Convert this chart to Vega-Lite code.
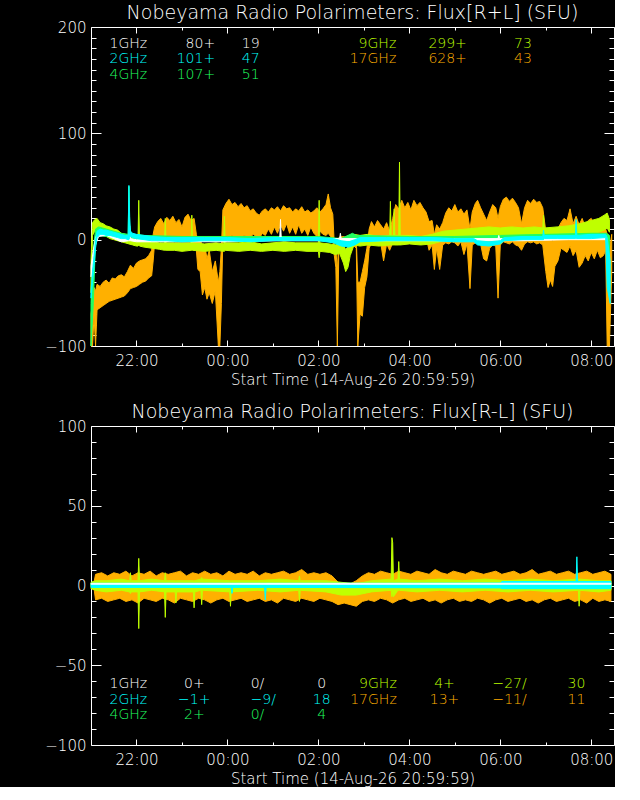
{
  "$schema": "https://vega.github.io/schema/vega-lite/v6.json",
  "background": "black",
  "padding": {"left": 44, "top": 3, "right": 0, "bottom": 0},
  "spacing": 80,
  "bounds": "flush",
  "config": {
    "font": "DejaVu Sans",
    "view": {"stroke": "white", "strokeWidth": 1},
    "axis": {
      "grid": false, "domain": false, "tickColor": "white", "tickWidth": 1,
      "labelColor": "white", "labelFont": "DejaVu Sans", "labelFontSize": 15, "labelFontWeight": 200,
      "labelOverlap": false, "labelFlush": false,
      "titleColor": "white", "titleFont": "DejaVu Sans", "titleFontSize": 15, "titleFontWeight": 200
    },
    "title": {"color": "white", "font": "DejaVu Sans", "fontSize": 19, "fontWeight": 200, "offset": -3},
    "text": {"font": "DejaVu Sans", "fontSize": 14, "fontWeight": 200}
  },
  "vconcat": [
    {
      "width": 523,
      "height": 319,
      "title": "Nobeyama Radio Polarimeters: Flux[R+L] (SFU)",
      "layer": [
        {
          "data": {
            "format": {"parse": {"t": "utc:'%d %H:%M'"}},
            "values": [
              {"t":"14 21:00","f":"17GHz","lo":-100,"hi":-70},{"t":"14 21:02","f":"17GHz","lo":-100,"hi":-60},{"t":"14 21:04","f":"17GHz","lo":-72,"hi":-45},{"t":"14 21:06","f":"17GHz","lo":-100,"hi":-48},
              {"t":"14 21:08","f":"17GHz","lo":-66,"hi":-42},{"t":"14 21:12","f":"17GHz","lo":-64,"hi":-44},{"t":"14 21:16","f":"17GHz","lo":-62,"hi":-40},{"t":"14 21:20","f":"17GHz","lo":-60,"hi":-38},
              {"t":"14 21:24","f":"17GHz","lo":-58,"hi":-41},{"t":"14 21:28","f":"17GHz","lo":-57,"hi":-36},{"t":"14 21:32","f":"17GHz","lo":-56,"hi":-37},{"t":"14 21:36","f":"17GHz","lo":-55,"hi":-34},
              {"t":"14 21:40","f":"17GHz","lo":-54,"hi":-33},{"t":"14 21:44","f":"17GHz","lo":-53,"hi":-35},{"t":"14 21:48","f":"17GHz","lo":-50,"hi":-30},{"t":"14 21:52","f":"17GHz","lo":-46,"hi":-24},
              {"t":"14 21:56","f":"17GHz","lo":-45,"hi":-27},{"t":"14 22:00","f":"17GHz","lo":-44,"hi":-22},{"t":"14 22:04","f":"17GHz","lo":-42,"hi":-20},{"t":"14 22:08","f":"17GHz","lo":-40,"hi":-19},
              {"t":"14 22:12","f":"17GHz","lo":-39,"hi":-18},{"t":"14 22:16","f":"17GHz","lo":-36,"hi":-15},{"t":"14 22:20","f":"17GHz","lo":-34,"hi":-10},{"t":"14 22:22","f":"17GHz","lo":-20,"hi":5},
              {"t":"14 22:24","f":"17GHz","lo":-2,"hi":12},{"t":"14 22:28","f":"17GHz","lo":-1,"hi":17},{"t":"14 22:32","f":"17GHz","lo":-2,"hi":20},{"t":"14 22:36","f":"17GHz","lo":-1,"hi":15},
              {"t":"14 22:40","f":"17GHz","lo":-2,"hi":21},{"t":"14 22:44","f":"17GHz","lo":-1,"hi":18},{"t":"14 22:48","f":"17GHz","lo":-2,"hi":22},{"t":"14 22:52","f":"17GHz","lo":-1,"hi":16},
              {"t":"14 22:56","f":"17GHz","lo":-2,"hi":19},{"t":"14 23:00","f":"17GHz","lo":2,"hi":12},{"t":"14 23:04","f":"17GHz","lo":-1,"hi":21},{"t":"14 23:08","f":"17GHz","lo":-2,"hi":24},
              {"t":"14 23:12","f":"17GHz","lo":-1,"hi":18},{"t":"14 23:16","f":"17GHz","lo":-3,"hi":20},{"t":"14 23:19","f":"17GHz","lo":-10,"hi":5},{"t":"14 23:21","f":"17GHz","lo":-28,"hi":-2},
              {"t":"14 23:24","f":"17GHz","lo":-30,"hi":2},{"t":"14 23:27","f":"17GHz","lo":-52,"hi":-8},{"t":"14 23:30","f":"17GHz","lo":-45,"hi":-5},{"t":"14 23:33","f":"17GHz","lo":-56,"hi":-18},
              {"t":"14 23:36","f":"17GHz","lo":-50,"hi":-10},{"t":"14 23:40","f":"17GHz","lo":-60,"hi":-30},{"t":"14 23:44","f":"17GHz","lo":-48,"hi":-20},{"t":"14 23:48","f":"17GHz","lo":-100,"hi":-40},
              {"t":"14 23:50","f":"17GHz","lo":-100,"hi":-30},{"t":"14 23:52","f":"17GHz","lo":-60,"hi":-8},{"t":"14 23:54","f":"17GHz","lo":2,"hi":28},{"t":"14 23:58","f":"17GHz","lo":3,"hi":34},
              {"t":"15 00:02","f":"17GHz","lo":2,"hi":38},{"t":"15 00:06","f":"17GHz","lo":4,"hi":33},{"t":"15 00:10","f":"17GHz","lo":2,"hi":35},{"t":"15 00:14","f":"17GHz","lo":3,"hi":31},
              {"t":"15 00:18","f":"17GHz","lo":2,"hi":34},{"t":"15 00:22","f":"17GHz","lo":4,"hi":30},{"t":"15 00:26","f":"17GHz","lo":3,"hi":32},{"t":"15 00:30","f":"17GHz","lo":2,"hi":27},
              {"t":"15 00:34","f":"17GHz","lo":5,"hi":29},{"t":"15 00:38","f":"17GHz","lo":3,"hi":25},{"t":"15 00:42","f":"17GHz","lo":1,"hi":23},{"t":"15 00:46","f":"17GHz","lo":6,"hi":27},
              {"t":"15 00:50","f":"17GHz","lo":4,"hi":29},{"t":"15 00:54","f":"17GHz","lo":10,"hi":26},{"t":"15 00:58","f":"17GHz","lo":5,"hi":30},{"t":"15 01:02","f":"17GHz","lo":12,"hi":28},
              {"t":"15 01:06","f":"17GHz","lo":6,"hi":31},{"t":"15 01:10","f":"17GHz","lo":14,"hi":27},{"t":"15 01:14","f":"17GHz","lo":8,"hi":32},{"t":"15 01:18","f":"17GHz","lo":15,"hi":29},
              {"t":"15 01:22","f":"17GHz","lo":6,"hi":30},{"t":"15 01:26","f":"17GHz","lo":12,"hi":26},{"t":"15 01:30","f":"17GHz","lo":5,"hi":29},{"t":"15 01:34","f":"17GHz","lo":14,"hi":27},
              {"t":"15 01:38","f":"17GHz","lo":6,"hi":31},{"t":"15 01:42","f":"17GHz","lo":10,"hi":26},{"t":"15 01:46","f":"17GHz","lo":4,"hi":28},{"t":"15 01:50","f":"17GHz","lo":12,"hi":25},
              {"t":"15 01:54","f":"17GHz","lo":6,"hi":27},{"t":"15 01:58","f":"17GHz","lo":3,"hi":30},{"t":"15 02:02","f":"17GHz","lo":8,"hi":26},{"t":"15 02:06","f":"17GHz","lo":5,"hi":29},
              {"t":"15 02:10","f":"17GHz","lo":4,"hi":33},{"t":"15 02:13","f":"17GHz","lo":6,"hi":43},{"t":"15 02:16","f":"17GHz","lo":3,"hi":30},{"t":"15 02:19","f":"17GHz","lo":0,"hi":24},
              {"t":"15 02:21","f":"17GHz","lo":-15,"hi":-5},{"t":"15 02:23","f":"17GHz","lo":-26,"hi":-8},{"t":"15 02:25","f":"17GHz","lo":-100,"hi":-30},{"t":"15 02:27","f":"17GHz","lo":-8,"hi":2},
              {"t":"15 02:32","f":"17GHz","lo":-5,"hi":3},{"t":"15 02:38","f":"17GHz","lo":-6,"hi":2},{"t":"15 02:44","f":"17GHz","lo":-4,"hi":3},{"t":"15 02:50","f":"17GHz","lo":-8,"hi":1},
              {"t":"15 02:52","f":"17GHz","lo":-100,"hi":-40},{"t":"15 02:55","f":"17GHz","lo":-70,"hi":-40},{"t":"15 02:58","f":"17GHz","lo":-72,"hi":-30},{"t":"15 03:01","f":"17GHz","lo":-45,"hi":-20},
              {"t":"15 03:04","f":"17GHz","lo":-35,"hi":-8},{"t":"15 03:07","f":"17GHz","lo":-8,"hi":10},{"t":"15 03:10","f":"17GHz","lo":-3,"hi":17},{"t":"15 03:14","f":"17GHz","lo":-1,"hi":12},
              {"t":"15 03:18","f":"17GHz","lo":0,"hi":18},{"t":"15 03:22","f":"17GHz","lo":-2,"hi":14},{"t":"15 03:26","f":"17GHz","lo":-20,"hi":10},{"t":"15 03:30","f":"17GHz","lo":-4,"hi":16},
              {"t":"15 03:34","f":"17GHz","lo":-10,"hi":8},{"t":"15 03:38","f":"17GHz","lo":-3,"hi":20},{"t":"15 03:42","f":"17GHz","lo":2,"hi":33},{"t":"15 03:46","f":"17GHz","lo":3,"hi":29},
              {"t":"15 03:50","f":"17GHz","lo":2,"hi":37},{"t":"15 03:54","f":"17GHz","lo":4,"hi":30},{"t":"15 03:58","f":"17GHz","lo":3,"hi":35},{"t":"15 04:02","f":"17GHz","lo":1,"hi":28},
              {"t":"15 04:06","f":"17GHz","lo":2,"hi":37},{"t":"15 04:10","f":"17GHz","lo":3,"hi":32},{"t":"15 04:14","f":"17GHz","lo":1,"hi":35},{"t":"15 04:18","f":"17GHz","lo":2,"hi":30},
              {"t":"15 04:22","f":"17GHz","lo":3,"hi":26},{"t":"15 04:26","f":"17GHz","lo":-10,"hi":17},{"t":"15 04:30","f":"17GHz","lo":-5,"hi":18},{"t":"15 04:33","f":"17GHz","lo":-28,"hi":5},
              {"t":"15 04:36","f":"17GHz","lo":-8,"hi":14},{"t":"15 04:40","f":"17GHz","lo":-28,"hi":10},{"t":"15 04:44","f":"17GHz","lo":-5,"hi":16},{"t":"15 04:48","f":"17GHz","lo":-3,"hi":25},
              {"t":"15 04:52","f":"17GHz","lo":-4,"hi":30},{"t":"15 04:56","f":"17GHz","lo":-2,"hi":27},{"t":"15 05:00","f":"17GHz","lo":-3,"hi":33},{"t":"15 05:04","f":"17GHz","lo":-6,"hi":26},
              {"t":"15 05:08","f":"17GHz","lo":-2,"hi":29},{"t":"15 05:12","f":"17GHz","lo":-14,"hi":24},{"t":"15 05:16","f":"17GHz","lo":-4,"hi":28},{"t":"15 05:20","f":"17GHz","lo":-46,"hi":10},
              {"t":"15 05:23","f":"17GHz","lo":-5,"hi":26},{"t":"15 05:27","f":"17GHz","lo":-3,"hi":34},{"t":"15 05:30","f":"17GHz","lo":-2,"hi":37},{"t":"15 05:34","f":"17GHz","lo":-4,"hi":30},
              {"t":"15 05:38","f":"17GHz","lo":-18,"hi":24},{"t":"15 05:42","f":"17GHz","lo":-20,"hi":18},{"t":"15 05:46","f":"17GHz","lo":-8,"hi":26},{"t":"15 05:50","f":"17GHz","lo":-5,"hi":33},
              {"t":"15 05:54","f":"17GHz","lo":-6,"hi":30},{"t":"15 05:57","f":"17GHz","lo":-55,"hi":20},{"t":"15 06:00","f":"17GHz","lo":-5,"hi":31},{"t":"15 06:04","f":"17GHz","lo":-2,"hi":38},
              {"t":"15 06:08","f":"17GHz","lo":-3,"hi":40},{"t":"15 06:12","f":"17GHz","lo":-4,"hi":36},{"t":"15 06:16","f":"17GHz","lo":-2,"hi":39},{"t":"15 06:20","f":"17GHz","lo":-5,"hi":35},
              {"t":"15 06:24","f":"17GHz","lo":-6,"hi":30},{"t":"15 06:28","f":"17GHz","lo":-10,"hi":15},{"t":"15 06:32","f":"17GHz","lo":-4,"hi":30},{"t":"15 06:36","f":"17GHz","lo":-2,"hi":37},
              {"t":"15 06:40","f":"17GHz","lo":-3,"hi":34},{"t":"15 06:44","f":"17GHz","lo":-2,"hi":38},{"t":"15 06:48","f":"17GHz","lo":-4,"hi":35},{"t":"15 06:52","f":"17GHz","lo":-3,"hi":36},
              {"t":"15 06:56","f":"17GHz","lo":-5,"hi":30},{"t":"15 07:00","f":"17GHz","lo":-30,"hi":8},{"t":"15 07:03","f":"17GHz","lo":-45,"hi":0},{"t":"15 07:06","f":"17GHz","lo":-38,"hi":3},
              {"t":"15 07:09","f":"17GHz","lo":-44,"hi":-2},{"t":"15 07:12","f":"17GHz","lo":-25,"hi":6},{"t":"15 07:16","f":"17GHz","lo":-20,"hi":10},{"t":"15 07:20","f":"17GHz","lo":-8,"hi":16},
              {"t":"15 07:24","f":"17GHz","lo":-10,"hi":20},{"t":"15 07:28","f":"17GHz","lo":-12,"hi":18},{"t":"15 07:32","f":"17GHz","lo":-6,"hi":29},{"t":"15 07:36","f":"17GHz","lo":-15,"hi":15},
              {"t":"15 07:40","f":"17GHz","lo":-10,"hi":22},{"t":"15 07:44","f":"17GHz","lo":-26,"hi":14},{"t":"15 07:48","f":"17GHz","lo":-22,"hi":20},{"t":"15 07:52","f":"17GHz","lo":-15,"hi":12},
              {"t":"15 07:56","f":"17GHz","lo":-20,"hi":18},{"t":"15 08:00","f":"17GHz","lo":-12,"hi":20},{"t":"15 08:04","f":"17GHz","lo":-18,"hi":14},{"t":"15 08:08","f":"17GHz","lo":-10,"hi":18},
              {"t":"15 08:12","f":"17GHz","lo":-17,"hi":12},{"t":"15 08:16","f":"17GHz","lo":-15,"hi":16},{"t":"15 08:19","f":"17GHz","lo":-10,"hi":10},{"t":"15 08:21","f":"17GHz","lo":-100,"hi":5},
              {"t":"15 08:24","f":"17GHz","lo":-100,"hi":-10},{"t":"15 08:27","f":"17GHz","lo":-30,"hi":5},

              {"t":"14 21:00","f":"9GHz","lo":-50,"hi":-20},{"t":"14 21:02","f":"9GHz","lo":4,"hi":16},{"t":"14 21:05","f":"9GHz","lo":8,"hi":19},{"t":"14 21:08","f":"9GHz","lo":6,"hi":20},
              {"t":"14 21:12","f":"9GHz","lo":5,"hi":16},{"t":"14 21:16","f":"9GHz","lo":4,"hi":15},{"t":"14 21:20","f":"9GHz","lo":3,"hi":13},{"t":"14 21:25","f":"9GHz","lo":1,"hi":12},
              {"t":"14 21:30","f":"9GHz","lo":0,"hi":10},{"t":"14 21:35","f":"9GHz","lo":-1,"hi":9},{"t":"14 21:40","f":"9GHz","lo":-2,"hi":6},{"t":"14 21:45","f":"9GHz","lo":-3,"hi":5},
              {"t":"14 21:50","f":"9GHz","lo":-4,"hi":3},{"t":"14 21:55","f":"9GHz","lo":-5,"hi":2},{"t":"14 22:00","f":"9GHz","lo":-6,"hi":0},{"t":"14 22:02","f":"9GHz","lo":-6,"hi":0},
              {"t":"14 22:03","f":"9GHz","lo":-5,"hi":37},{"t":"14 22:04","f":"9GHz","lo":-6,"hi":-1},{"t":"14 22:10","f":"9GHz","lo":-7,"hi":-1},{"t":"14 22:20","f":"9GHz","lo":-8,"hi":-2},
              {"t":"14 22:30","f":"9GHz","lo":-9,"hi":-3},{"t":"14 22:37","f":"9GHz","lo":-10,"hi":-3},{"t":"14 22:38","f":"9GHz","lo":-10,"hi":20},{"t":"14 22:39","f":"9GHz","lo":-10,"hi":-3},
              {"t":"14 22:50","f":"9GHz","lo":-10,"hi":-3},{"t":"14 23:00","f":"9GHz","lo":-11,"hi":-3},{"t":"14 23:12","f":"9GHz","lo":-10,"hi":-3},{"t":"14 23:13","f":"9GHz","lo":-10,"hi":23},
              {"t":"14 23:14","f":"9GHz","lo":-10,"hi":-3},{"t":"14 23:30","f":"9GHz","lo":-11,"hi":-4},{"t":"14 23:45","f":"9GHz","lo":-10,"hi":-3},{"t":"14 23:55","f":"9GHz","lo":-11,"hi":-4},
              {"t":"14 23:56","f":"9GHz","lo":-11,"hi":22},{"t":"14 23:57","f":"9GHz","lo":-10,"hi":-3},{"t":"15 00:15","f":"9GHz","lo":-11,"hi":-3},{"t":"15 00:30","f":"9GHz","lo":-10,"hi":-2},
              {"t":"15 00:45","f":"9GHz","lo":-11,"hi":-4},{"t":"15 01:00","f":"9GHz","lo":-10,"hi":-3},{"t":"15 01:15","f":"9GHz","lo":-11,"hi":-2},{"t":"15 01:30","f":"9GHz","lo":-10,"hi":-3},
              {"t":"15 01:45","f":"9GHz","lo":-11,"hi":-3},{"t":"15 02:00","f":"9GHz","lo":-11,"hi":-3},{"t":"15 02:01","f":"9GHz","lo":-17,"hi":37},{"t":"15 02:02","f":"9GHz","lo":-11,"hi":-3},
              {"t":"15 02:15","f":"9GHz","lo":-12,"hi":-4},{"t":"15 02:22","f":"9GHz","lo":-14,"hi":-5},{"t":"15 02:28","f":"9GHz","lo":-13,"hi":-3},{"t":"15 02:33","f":"9GHz","lo":-22,"hi":-6},
              {"t":"15 02:36","f":"9GHz","lo":-30,"hi":-9},{"t":"15 02:39","f":"9GHz","lo":-26,"hi":-7},{"t":"15 02:42","f":"9GHz","lo":-15,"hi":-3},{"t":"15 02:47","f":"9GHz","lo":-5,"hi":5},
              {"t":"15 02:55","f":"9GHz","lo":-6,"hi":4},{"t":"15 03:05","f":"9GHz","lo":-5,"hi":5},{"t":"15 03:20","f":"9GHz","lo":-6,"hi":3},{"t":"15 03:34","f":"9GHz","lo":-5,"hi":4},
              {"t":"15 03:35","f":"9GHz","lo":-5,"hi":36},{"t":"15 03:36","f":"9GHz","lo":-5,"hi":4},{"t":"15 03:39","f":"9GHz","lo":-5,"hi":4},{"t":"15 03:40","f":"9GHz","lo":-5,"hi":29},
              {"t":"15 03:41","f":"9GHz","lo":-5,"hi":4},{"t":"15 03:46","f":"9GHz","lo":-5,"hi":4},{"t":"15 03:47","f":"9GHz","lo":-5,"hi":73},{"t":"15 03:48","f":"9GHz","lo":-5,"hi":4},
              {"t":"15 04:00","f":"9GHz","lo":-4,"hi":4},{"t":"15 04:15","f":"9GHz","lo":-5,"hi":3},{"t":"15 04:30","f":"9GHz","lo":-4,"hi":5},{"t":"15 04:45","f":"9GHz","lo":-1,"hi":8},
              {"t":"15 05:00","f":"9GHz","lo":0,"hi":9},{"t":"15 05:15","f":"9GHz","lo":0,"hi":10},{"t":"15 05:30","f":"9GHz","lo":1,"hi":11},{"t":"15 05:45","f":"9GHz","lo":1,"hi":12},
              {"t":"15 06:00","f":"9GHz","lo":2,"hi":11},{"t":"15 06:15","f":"9GHz","lo":1,"hi":12},{"t":"15 06:30","f":"9GHz","lo":2,"hi":11},{"t":"15 06:45","f":"9GHz","lo":1,"hi":12},
              {"t":"15 06:56","f":"9GHz","lo":2,"hi":11},{"t":"15 06:57","f":"9GHz","lo":2,"hi":23},{"t":"15 06:58","f":"9GHz","lo":2,"hi":11},{"t":"15 07:15","f":"9GHz","lo":3,"hi":12},
              {"t":"15 07:30","f":"9GHz","lo":3,"hi":13},{"t":"15 07:45","f":"9GHz","lo":4,"hi":15},{"t":"15 08:00","f":"9GHz","lo":6,"hi":18},{"t":"15 08:10","f":"9GHz","lo":7,"hi":20},
              {"t":"15 08:17","f":"9GHz","lo":9,"hi":23},{"t":"15 08:21","f":"9GHz","lo":11,"hi":25},{"t":"15 08:24","f":"9GHz","lo":7,"hi":19},

              {"t":"14 21:00","f":"4GHz","lo":-100,"hi":-60},{"t":"14 21:03","f":"4GHz","lo":-60,"hi":-10},{"t":"14 21:06","f":"4GHz","lo":0,"hi":10},{"t":"14 21:10","f":"4GHz","lo":4,"hi":12},
              {"t":"14 21:20","f":"4GHz","lo":3,"hi":10},{"t":"14 21:30","f":"4GHz","lo":2,"hi":8},{"t":"14 21:40","f":"4GHz","lo":1,"hi":6},{"t":"14 21:49","f":"4GHz","lo":1,"hi":5},
              {"t":"14 21:50","f":"4GHz","lo":1,"hi":50},{"t":"14 21:51","f":"4GHz","lo":2,"hi":12},{"t":"14 21:53","f":"4GHz","lo":1,"hi":5},{"t":"14 22:10","f":"4GHz","lo":0,"hi":4},
              {"t":"14 23:00","f":"4GHz","lo":0,"hi":3},{"t":"15 00:00","f":"4GHz","lo":0,"hi":3},{"t":"15 01:00","f":"4GHz","lo":0,"hi":3},{"t":"15 02:00","f":"4GHz","lo":0,"hi":3},
              {"t":"15 02:30","f":"4GHz","lo":-4,"hi":1},{"t":"15 02:45","f":"4GHz","lo":-3,"hi":6},{"t":"15 02:50","f":"4GHz","lo":0,"hi":4},{"t":"15 04:00","f":"4GHz","lo":0,"hi":3},
              {"t":"15 05:00","f":"4GHz","lo":0,"hi":3},{"t":"15 06:00","f":"4GHz","lo":0,"hi":4},{"t":"15 07:00","f":"4GHz","lo":1,"hi":5},{"t":"15 08:00","f":"4GHz","lo":2,"hi":6},
              {"t":"15 08:20","f":"4GHz","lo":2,"hi":6},{"t":"15 08:24","f":"4GHz","lo":-20,"hi":4},

              {"t":"14 21:00","f":"1GHz","lo":-35,"hi":-25},{"t":"14 21:03","f":"1GHz","lo":-20,"hi":-10},{"t":"14 21:06","f":"1GHz","lo":-5,"hi":2},{"t":"14 21:10","f":"1GHz","lo":3,"hi":7},
              {"t":"14 21:20","f":"1GHz","lo":4,"hi":7},{"t":"14 21:30","f":"1GHz","lo":1,"hi":4},{"t":"14 21:40","f":"1GHz","lo":-2,"hi":1},{"t":"14 21:50","f":"1GHz","lo":-1,"hi":1},
              {"t":"14 21:51","f":"1GHz","lo":-1,"hi":13},{"t":"14 21:52","f":"1GHz","lo":-1,"hi":1},{"t":"14 22:00","f":"1GHz","lo":-2,"hi":0},{"t":"14 23:00","f":"1GHz","lo":-2,"hi":0},
              {"t":"15 00:00","f":"1GHz","lo":-2,"hi":0},{"t":"15 01:09","f":"1GHz","lo":-1,"hi":1},{"t":"15 01:10","f":"1GHz","lo":-1,"hi":19},{"t":"15 01:11","f":"1GHz","lo":-1,"hi":1},
              {"t":"15 02:00","f":"1GHz","lo":-1,"hi":1},{"t":"15 02:28","f":"1GHz","lo":-1,"hi":1},{"t":"15 02:29","f":"1GHz","lo":-1,"hi":6},{"t":"15 02:30","f":"1GHz","lo":-1,"hi":1},
              {"t":"15 03:00","f":"1GHz","lo":-1,"hi":1},{"t":"15 04:00","f":"1GHz","lo":-1,"hi":1},{"t":"15 05:00","f":"1GHz","lo":-1,"hi":1},{"t":"15 05:57","f":"1GHz","lo":-1,"hi":1},
              {"t":"15 05:58","f":"1GHz","lo":-1,"hi":4},{"t":"15 05:59","f":"1GHz","lo":-1,"hi":1},{"t":"15 06:30","f":"1GHz","lo":-1,"hi":1},{"t":"15 07:30","f":"1GHz","lo":0,"hi":2},
              {"t":"15 08:20","f":"1GHz","lo":0,"hi":2},

              {"t":"14 21:00","f":"2GHz","lo":-55,"hi":-48},{"t":"14 21:02","f":"2GHz","lo":-40,"hi":-30},{"t":"14 21:04","f":"2GHz","lo":-25,"hi":-15},{"t":"14 21:06","f":"2GHz","lo":-8,"hi":0},
              {"t":"14 21:08","f":"2GHz","lo":2,"hi":8},{"t":"14 21:12","f":"2GHz","lo":5,"hi":10},{"t":"14 21:16","f":"2GHz","lo":5,"hi":9},{"t":"14 21:20","f":"2GHz","lo":4,"hi":9},
              {"t":"14 21:25","f":"2GHz","lo":4,"hi":8},{"t":"14 21:30","f":"2GHz","lo":3,"hi":7},{"t":"14 21:35","f":"2GHz","lo":2,"hi":6},{"t":"14 21:40","f":"2GHz","lo":1,"hi":5},
              {"t":"14 21:45","f":"2GHz","lo":1,"hi":4},{"t":"14 21:49","f":"2GHz","lo":0,"hi":4},{"t":"14 21:50","f":"2GHz","lo":0,"hi":51},{"t":"14 21:51","f":"2GHz","lo":2,"hi":22},
              {"t":"14 21:52","f":"2GHz","lo":3,"hi":8},{"t":"14 21:55","f":"2GHz","lo":2,"hi":6},{"t":"14 22:00","f":"2GHz","lo":1,"hi":5},{"t":"14 22:10","f":"2GHz","lo":0,"hi":4},
              {"t":"14 22:20","f":"2GHz","lo":-1,"hi":3},{"t":"14 22:40","f":"2GHz","lo":-1,"hi":2},{"t":"14 23:00","f":"2GHz","lo":-2,"hi":2},{"t":"14 23:30","f":"2GHz","lo":-1,"hi":2},
              {"t":"15 00:00","f":"2GHz","lo":-1,"hi":2},{"t":"15 00:30","f":"2GHz","lo":-2,"hi":1},{"t":"15 01:00","f":"2GHz","lo":-1,"hi":2},{"t":"15 01:30","f":"2GHz","lo":-1,"hi":2},
              {"t":"15 02:00","f":"2GHz","lo":-1,"hi":2},{"t":"15 02:20","f":"2GHz","lo":-3,"hi":1},{"t":"15 02:30","f":"2GHz","lo":-6,"hi":-1},{"t":"15 02:40","f":"2GHz","lo":-7,"hi":-2},
              {"t":"15 02:48","f":"2GHz","lo":-5,"hi":0},{"t":"15 02:55","f":"2GHz","lo":-2,"hi":2},{"t":"15 03:30","f":"2GHz","lo":-1,"hi":2},{"t":"15 04:00","f":"2GHz","lo":-1,"hi":2},
              {"t":"15 04:30","f":"2GHz","lo":-1,"hi":2},{"t":"15 05:00","f":"2GHz","lo":-2,"hi":1},{"t":"15 05:25","f":"2GHz","lo":-2,"hi":1},{"t":"15 05:30","f":"2GHz","lo":-5,"hi":-1},
              {"t":"15 05:45","f":"2GHz","lo":-6,"hi":-2},{"t":"15 06:00","f":"2GHz","lo":-4,"hi":-1},{"t":"15 06:05","f":"2GHz","lo":-1,"hi":2},{"t":"15 06:30","f":"2GHz","lo":0,"hi":3},
              {"t":"15 06:56","f":"2GHz","lo":0,"hi":3},{"t":"15 06:57","f":"2GHz","lo":0,"hi":9},{"t":"15 06:58","f":"2GHz","lo":1,"hi":4},{"t":"15 07:15","f":"2GHz","lo":1,"hi":4},
              {"t":"15 07:39","f":"2GHz","lo":1,"hi":4},{"t":"15 07:40","f":"2GHz","lo":1,"hi":19},{"t":"15 07:41","f":"2GHz","lo":1,"hi":4},{"t":"15 08:00","f":"2GHz","lo":1,"hi":5},
              {"t":"15 08:19","f":"2GHz","lo":2,"hi":5},{"t":"15 08:21","f":"2GHz","lo":-45,"hi":2},{"t":"15 08:25","f":"2GHz","lo":-60,"hi":-20}
            ]
          },
          "encoding": {
            "x": {"field": "t", "type": "temporal", "scale": {"type": "utc", "domain": [{"year": 1900, "month": 1, "date": 14, "hours": 20, "minutes": 59, "seconds": 59, "utc": true}, {"year": 1900, "month": 1, "date": 15, "hours": 8, "minutes": 30, "utc": true}]}, "axis": null},
            "y": {"field": "lo", "type": "quantitative", "scale": {"domain": [-100, 200], "nice": false}, "axis": null},
            "y2": {"field": "hi"},
            "color": {"field": "f", "type": "nominal", "scale": {"domain": ["1GHz", "2GHz", "4GHz", "9GHz", "17GHz"], "range": ["#ffffff", "#00ffff", "#20ff60", "#bfff00", "#ffb000"]}, "legend": null},
            "stroke": {"field": "f", "type": "nominal", "scale": {"domain": ["1GHz", "2GHz", "4GHz", "9GHz", "17GHz"], "range": ["#ffffff", "#00ffff", "#20ff60", "#bfff00", "#ffb000"]}, "legend": null}
          },
          "layer": [
            {
              "transform": [{"filter": "datum.f == '17GHz'"}],
              "mark": {"type": "area", "strokeWidth": 1},
              "encoding": {
                "x": {"field": "t", "type": "temporal", "axis": {"orient": "bottom", "title": "Start Time (14-Aug-26 20:59:59)", "titlePadding": 1, "labelPadding": 13,
                  "values": [{"year": 1900, "month": 1, "date": 14, "hours": 22, "utc": true}, {"year": 1900, "month": 1, "date": 14, "hours": 23, "utc": true}, {"year": 1900, "month": 1, "date": 15, "hours": 0, "utc": true}, {"year": 1900, "month": 1, "date": 15, "hours": 1, "utc": true}, {"year": 1900, "month": 1, "date": 15, "hours": 2, "utc": true}, {"year": 1900, "month": 1, "date": 15, "hours": 3, "utc": true}, {"year": 1900, "month": 1, "date": 15, "hours": 4, "utc": true}, {"year": 1900, "month": 1, "date": 15, "hours": 5, "utc": true}, {"year": 1900, "month": 1, "date": 15, "hours": 6, "utc": true}, {"year": 1900, "month": 1, "date": 15, "hours": 7, "utc": true}, {"year": 1900, "month": 1, "date": 15, "hours": 8, "utc": true}],
                  "labelExpr": "utchours(datum.value) % 2 == 0 ? utcFormat(datum.value, '%H:%M') : ''",
                  "tickSize": {"condition": {"test": "utchours(datum.value) % 2 == 0", "value": -6}, "value": -3}}},
                "y": {"field": "lo", "type": "quantitative", "axis": {"orient": "left", "title": null, "labelPadding": 15,
                  "values": [-100, -90, -80, -70, -60, -50, -40, -30, -20, -10, 0, 10, 20, 30, 40, 50, 60, 70, 80, 90, 100, 110, 120, 130, 140, 150, 160, 170, 180, 190, 200],
                  "labelExpr": "datum.value % 100 == 0 ? datum.label : ''",
                  "tickSize": {"condition": {"test": "datum.value % 100 == 0", "value": -10}, "value": -5}}}
              }
            },
            {"transform": [{"filter": "datum.f == '9GHz'"}], "mark": {"type": "area", "strokeWidth": 1}},
            {"transform": [{"filter": "datum.f == '4GHz'"}], "mark": {"type": "area", "strokeWidth": 1}},
            {"transform": [{"filter": "datum.f == '1GHz'"}], "mark": {"type": "area", "strokeWidth": 1}},
            {
              "transform": [{"filter": "datum.f == '2GHz'"}],
              "mark": {"type": "area", "strokeWidth": 1},
              "encoding": {
                "x": {"field": "t", "type": "temporal", "axis": {"orient": "top", "title": null, "labels": false,
                  "values": [{"year": 1900, "month": 1, "date": 14, "hours": 22, "utc": true}, {"year": 1900, "month": 1, "date": 14, "hours": 23, "utc": true}, {"year": 1900, "month": 1, "date": 15, "hours": 0, "utc": true}, {"year": 1900, "month": 1, "date": 15, "hours": 1, "utc": true}, {"year": 1900, "month": 1, "date": 15, "hours": 2, "utc": true}, {"year": 1900, "month": 1, "date": 15, "hours": 3, "utc": true}, {"year": 1900, "month": 1, "date": 15, "hours": 4, "utc": true}, {"year": 1900, "month": 1, "date": 15, "hours": 5, "utc": true}, {"year": 1900, "month": 1, "date": 15, "hours": 6, "utc": true}, {"year": 1900, "month": 1, "date": 15, "hours": 7, "utc": true}, {"year": 1900, "month": 1, "date": 15, "hours": 8, "utc": true}],
                  "tickSize": {"condition": {"test": "utchours(datum.value) % 2 == 0", "value": -6}, "value": -3}}},
                "y": {"field": "lo", "type": "quantitative", "axis": {"orient": "right", "title": null, "labels": false,
                  "values": [-100, -90, -80, -70, -60, -50, -40, -30, -20, -10, 0, 10, 20, 30, 40, 50, 60, 70, 80, 90, 100, 110, 120, 130, 140, 150, 160, 170, 180, 190, 200],
                  "tickSize": {"condition": {"test": "datum.value % 100 == 0", "value": -10}, "value": -5}}}
              }
            }
          ],
          "resolve": {"axis": {"x": "independent", "y": "independent"}}
        },
        {
          "data": {
            "values": [
              {"f": "1GHz", "g": "L", "row": 1, "a": "80+", "b": "19"},
              {"f": "2GHz", "g": "L", "row": 2, "a": "101+", "b": "47"},
              {"f": "4GHz", "g": "L", "row": 3, "a": "107+", "b": "51"},
              {"f": "9GHz", "g": "R", "row": 1, "a": "299+", "b": "73"},
              {"f": "17GHz", "g": "R", "row": 2, "a": "628+", "b": "43"}
            ]
          },
          "encoding": {
            "y": {"field": "row", "type": "quantitative", "scale": {"domain": [-0.12, 20.73], "reverse": true, "nice": false, "zero": false}, "axis": null},
            "color": {"field": "f", "type": "nominal", "scale": {"domain": ["1GHz", "2GHz", "4GHz", "9GHz", "17GHz"], "range": ["#ffffff", "#00ffff", "#20ff60", "#bfff00", "#ffb000"]}, "legend": null}
          },
          "layer": [
            {"transform": [{"filter": "datum.g == 'L'"}], "mark": {"type": "text", "align": "left", "baseline": "middle"},
             "encoding": {"x": {"datum": {"year": 1900, "month": 1, "date": 14, "hours": 21, "minutes": 24, "seconds": 26, "utc": true}, "type": "temporal", "axis": null}, "text": {"field": "f"}}},
            {"transform": [{"filter": "datum.g == 'L'"}], "mark": {"type": "text", "align": "right", "baseline": "middle"},
             "encoding": {"x": {"datum": {"year": 1900, "month": 1, "date": 14, "hours": 23, "minutes": 43, "seconds": 44, "utc": true}, "type": "temporal", "axis": null}, "text": {"field": "a"}}},
            {"transform": [{"filter": "datum.g == 'L'"}], "mark": {"type": "text", "align": "right", "baseline": "middle"},
             "encoding": {"x": {"datum": {"year": 1900, "month": 1, "date": 15, "hours": 0, "minutes": 42, "seconds": 30, "utc": true}, "type": "temporal", "axis": null}, "text": {"field": "b"}}},
            {"transform": [{"filter": "datum.g == 'R'"}], "mark": {"type": "text", "align": "right", "baseline": "middle"},
             "encoding": {"x": {"datum": {"year": 1900, "month": 1, "date": 15, "hours": 3, "minutes": 42, "seconds": 43, "utc": true}, "type": "temporal", "axis": null}, "text": {"field": "f"}}},
            {"transform": [{"filter": "datum.g == 'R'"}], "mark": {"type": "text", "align": "right", "baseline": "middle"},
             "encoding": {"x": {"datum": {"year": 1900, "month": 1, "date": 15, "hours": 5, "minutes": 15, "seconds": 50, "utc": true}, "type": "temporal", "axis": null}, "text": {"field": "a"}}},
            {"transform": [{"filter": "datum.g == 'R'"}], "mark": {"type": "text", "align": "right", "baseline": "middle"},
             "encoding": {"x": {"datum": {"year": 1900, "month": 1, "date": 15, "hours": 6, "minutes": 41, "seconds": 38, "utc": true}, "type": "temporal", "axis": null}, "text": {"field": "b"}}}
          ]
        }
      ],
      "resolve": {"scale": {"y": "independent"}}
    },
    {
      "width": 523,
      "height": 319,
      "title": "Nobeyama Radio Polarimeters: Flux[R-L] (SFU)",
      "layer": [
        {
          "data": {
            "format": {"parse": {"t": "utc:'%d %H:%M'"}},
            "values": [
              {"t":"14 21:04","f":"17GHz","lo":-2,"hi":2},{"t":"14 21:06","f":"17GHz","lo":-9,"hi":7},{"t":"14 21:14","f":"17GHz","lo":-8,"hi":8},{"t":"14 21:22","f":"17GHz","lo":-10,"hi":6},
              {"t":"14 21:30","f":"17GHz","lo":-9,"hi":8},{"t":"14 21:38","f":"17GHz","lo":-8,"hi":7},{"t":"14 21:46","f":"17GHz","lo":-10,"hi":9},{"t":"14 21:54","f":"17GHz","lo":-9,"hi":6},
              {"t":"14 22:02","f":"17GHz","lo":-11,"hi":8},{"t":"14 22:10","f":"17GHz","lo":-8,"hi":7},{"t":"14 22:18","f":"17GHz","lo":-9,"hi":9},{"t":"14 22:26","f":"17GHz","lo":-10,"hi":6},
              {"t":"14 22:34","f":"17GHz","lo":-8,"hi":8},{"t":"14 22:42","f":"17GHz","lo":-9,"hi":7},{"t":"14 22:50","f":"17GHz","lo":-11,"hi":8},{"t":"14 22:58","f":"17GHz","lo":-8,"hi":9},
              {"t":"14 23:06","f":"17GHz","lo":-9,"hi":6},{"t":"14 23:14","f":"17GHz","lo":-10,"hi":8},{"t":"14 23:22","f":"17GHz","lo":-8,"hi":7},{"t":"14 23:30","f":"17GHz","lo":-9,"hi":9},
              {"t":"14 23:38","f":"17GHz","lo":-11,"hi":7},{"t":"14 23:46","f":"17GHz","lo":-9,"hi":8},{"t":"14 23:54","f":"17GHz","lo":-8,"hi":6},{"t":"15 00:02","f":"17GHz","lo":-10,"hi":9},
              {"t":"15 00:10","f":"17GHz","lo":-9,"hi":7},{"t":"15 00:18","f":"17GHz","lo":-8,"hi":8},{"t":"15 00:26","f":"17GHz","lo":-10,"hi":7},{"t":"15 00:34","f":"17GHz","lo":-9,"hi":9},
              {"t":"15 00:42","f":"17GHz","lo":-8,"hi":6},{"t":"15 00:50","f":"17GHz","lo":-10,"hi":8},{"t":"15 00:58","f":"17GHz","lo":-9,"hi":7},{"t":"15 01:06","f":"17GHz","lo":-11,"hi":8},
              {"t":"15 01:14","f":"17GHz","lo":-8,"hi":9},{"t":"15 01:22","f":"17GHz","lo":-9,"hi":7},{"t":"15 01:30","f":"17GHz","lo":-10,"hi":8},{"t":"15 01:38","f":"17GHz","lo":-8,"hi":10},
              {"t":"15 01:46","f":"17GHz","lo":-9,"hi":7},{"t":"15 01:54","f":"17GHz","lo":-10,"hi":8},{"t":"15 02:02","f":"17GHz","lo":-8,"hi":7},{"t":"15 02:10","f":"17GHz","lo":-9,"hi":8},
              {"t":"15 02:18","f":"17GHz","lo":-10,"hi":6},{"t":"15 02:26","f":"17GHz","lo":-12,"hi":2},{"t":"15 02:34","f":"17GHz","lo":-11,"hi":-1},{"t":"15 02:42","f":"17GHz","lo":-12,"hi":1},
              {"t":"15 02:50","f":"17GHz","lo":-13,"hi":3},{"t":"15 02:58","f":"17GHz","lo":-10,"hi":6},{"t":"15 03:06","f":"17GHz","lo":-9,"hi":8},{"t":"15 03:14","f":"17GHz","lo":-10,"hi":7},
              {"t":"15 03:22","f":"17GHz","lo":-8,"hi":9},{"t":"15 03:30","f":"17GHz","lo":-9,"hi":8},{"t":"15 03:38","f":"17GHz","lo":-11,"hi":7},{"t":"15 03:46","f":"17GHz","lo":-9,"hi":9},
              {"t":"15 03:54","f":"17GHz","lo":-8,"hi":8},{"t":"15 04:02","f":"17GHz","lo":-10,"hi":7},{"t":"15 04:10","f":"17GHz","lo":-9,"hi":9},{"t":"15 04:18","f":"17GHz","lo":-8,"hi":8},
              {"t":"15 04:26","f":"17GHz","lo":-10,"hi":7},{"t":"15 04:34","f":"17GHz","lo":-9,"hi":10},{"t":"15 04:42","f":"17GHz","lo":-11,"hi":8},{"t":"15 04:50","f":"17GHz","lo":-9,"hi":7},
              {"t":"15 04:58","f":"17GHz","lo":-8,"hi":9},{"t":"15 05:06","f":"17GHz","lo":-10,"hi":8},{"t":"15 05:14","f":"17GHz","lo":-9,"hi":7},{"t":"15 05:22","f":"17GHz","lo":-10,"hi":9},
              {"t":"15 05:30","f":"17GHz","lo":-8,"hi":8},{"t":"15 05:38","f":"17GHz","lo":-9,"hi":7},{"t":"15 05:46","f":"17GHz","lo":-11,"hi":8},{"t":"15 05:54","f":"17GHz","lo":-9,"hi":9},
              {"t":"15 06:02","f":"17GHz","lo":-8,"hi":7},{"t":"15 06:10","f":"17GHz","lo":-10,"hi":8},{"t":"15 06:18","f":"17GHz","lo":-9,"hi":9},{"t":"15 06:26","f":"17GHz","lo":-8,"hi":7},
              {"t":"15 06:34","f":"17GHz","lo":-10,"hi":8},{"t":"15 06:42","f":"17GHz","lo":-9,"hi":10},{"t":"15 06:50","f":"17GHz","lo":-11,"hi":7},{"t":"15 06:58","f":"17GHz","lo":-9,"hi":8},
              {"t":"15 07:06","f":"17GHz","lo":-8,"hi":9},{"t":"15 07:14","f":"17GHz","lo":-10,"hi":7},{"t":"15 07:22","f":"17GHz","lo":-9,"hi":8},{"t":"15 07:30","f":"17GHz","lo":-8,"hi":9},
              {"t":"15 07:38","f":"17GHz","lo":-10,"hi":7},{"t":"15 07:46","f":"17GHz","lo":-9,"hi":8},{"t":"15 07:54","f":"17GHz","lo":-11,"hi":9},{"t":"15 08:02","f":"17GHz","lo":-8,"hi":7},
              {"t":"15 08:10","f":"17GHz","lo":-10,"hi":8},{"t":"15 08:18","f":"17GHz","lo":-9,"hi":9},{"t":"15 08:26","f":"17GHz","lo":-10,"hi":7},

              {"t":"14 21:00","f":"9GHz","lo":-2,"hi":2},{"t":"14 21:06","f":"9GHz","lo":-3,"hi":3},{"t":"14 21:20","f":"9GHz","lo":-4,"hi":3},{"t":"14 21:40","f":"9GHz","lo":-3,"hi":4},
              {"t":"14 21:51","f":"9GHz","lo":-4,"hi":3},{"t":"14 21:52","f":"9GHz","lo":-5,"hi":8},{"t":"14 21:53","f":"9GHz","lo":-4,"hi":3},{"t":"14 22:02","f":"9GHz","lo":-4,"hi":3},
              {"t":"14 22:03","f":"9GHz","lo":-27,"hi":17},{"t":"14 22:04","f":"9GHz","lo":-4,"hi":3},{"t":"14 22:20","f":"9GHz","lo":-3,"hi":4},{"t":"14 22:37","f":"9GHz","lo":-4,"hi":3},
              {"t":"14 22:38","f":"9GHz","lo":-20,"hi":8},{"t":"14 22:39","f":"9GHz","lo":-4,"hi":3},{"t":"14 22:51","f":"9GHz","lo":-4,"hi":3},{"t":"14 22:52","f":"9GHz","lo":-11,"hi":3},
              {"t":"14 22:53","f":"9GHz","lo":-4,"hi":3},{"t":"14 23:15","f":"9GHz","lo":-4,"hi":3},{"t":"14 23:16","f":"9GHz","lo":-14,"hi":3},{"t":"14 23:17","f":"9GHz","lo":-4,"hi":3},
              {"t":"14 23:25","f":"9GHz","lo":-3,"hi":4},{"t":"14 23:26","f":"9GHz","lo":-12,"hi":5},{"t":"14 23:27","f":"9GHz","lo":-3,"hi":4},{"t":"15 00:03","f":"9GHz","lo":-4,"hi":3},
              {"t":"15 00:04","f":"9GHz","lo":-13,"hi":3},{"t":"15 00:05","f":"9GHz","lo":-4,"hi":3},{"t":"15 00:40","f":"9GHz","lo":-3,"hi":3},{"t":"15 01:10","f":"9GHz","lo":-4,"hi":4},
              {"t":"15 01:34","f":"9GHz","lo":-3,"hi":3},{"t":"15 01:35","f":"9GHz","lo":-10,"hi":6},{"t":"15 01:36","f":"9GHz","lo":-3,"hi":3},{"t":"15 02:10","f":"9GHz","lo":-4,"hi":3},
              {"t":"15 02:30","f":"9GHz","lo":-6,"hi":2},{"t":"15 02:50","f":"9GHz","lo":-6,"hi":1},{"t":"15 03:10","f":"9GHz","lo":-4,"hi":3},{"t":"15 03:36","f":"9GHz","lo":-3,"hi":4},
              {"t":"15 03:37","f":"9GHz","lo":-7,"hi":30},{"t":"15 03:38","f":"9GHz","lo":-4,"hi":27},{"t":"15 03:39","f":"9GHz","lo":-7,"hi":3},{"t":"15 03:45","f":"9GHz","lo":-3,"hi":4},
              {"t":"15 03:46","f":"9GHz","lo":-3,"hi":15},{"t":"15 03:47","f":"9GHz","lo":-3,"hi":4},{"t":"15 04:10","f":"9GHz","lo":-4,"hi":3},{"t":"15 04:40","f":"9GHz","lo":-3,"hi":4},
              {"t":"15 05:10","f":"9GHz","lo":-4,"hi":3},{"t":"15 05:40","f":"9GHz","lo":-3,"hi":4},{"t":"15 06:10","f":"9GHz","lo":-4,"hi":3},{"t":"15 06:40","f":"9GHz","lo":-3,"hi":4},
              {"t":"15 07:10","f":"9GHz","lo":-4,"hi":3},{"t":"15 07:43","f":"9GHz","lo":-3,"hi":4},{"t":"15 07:44","f":"9GHz","lo":-13,"hi":4},{"t":"15 07:45","f":"9GHz","lo":-3,"hi":4},
              {"t":"15 08:10","f":"9GHz","lo":-4,"hi":3},{"t":"15 08:26","f":"9GHz","lo":-3,"hi":3},

              {"t":"14 21:00","f":"4GHz","lo":0,"hi":1.5},{"t":"15 08:26","f":"4GHz","lo":0,"hi":1.5},

              {"t":"14 21:00","f":"2GHz","lo":-1.2,"hi":1},{"t":"15 00:05","f":"2GHz","lo":-1.2,"hi":1},{"t":"15 00:06","f":"2GHz","lo":-5,"hi":1},{"t":"15 00:07","f":"2GHz","lo":-1.2,"hi":1},
              {"t":"15 00:49","f":"2GHz","lo":-1.2,"hi":1},{"t":"15 00:50","f":"2GHz","lo":-9,"hi":1},{"t":"15 00:51","f":"2GHz","lo":-1.2,"hi":1},{"t":"15 06:00","f":"2GHz","lo":-1.5,"hi":1.5},
              {"t":"15 06:02","f":"2GHz","lo":-2,"hi":2.5},{"t":"15 07:40","f":"2GHz","lo":-2,"hi":2.5},{"t":"15 07:41","f":"2GHz","lo":-2,"hi":18},{"t":"15 07:42","f":"2GHz","lo":-2,"hi":2.5},
              {"t":"15 08:26","f":"2GHz","lo":-2,"hi":2.5},

              {"t":"14 21:00","f":"1GHz","lo":0.8,"hi":1.4},{"t":"15 08:26","f":"1GHz","lo":0.8,"hi":1.4}
            ]
          },
          "encoding": {
            "x": {"field": "t", "type": "temporal", "scale": {"type": "utc", "domain": [{"year": 1900, "month": 1, "date": 14, "hours": 20, "minutes": 59, "seconds": 59, "utc": true}, {"year": 1900, "month": 1, "date": 15, "hours": 8, "minutes": 30, "utc": true}]}, "axis": null},
            "y": {"field": "lo", "type": "quantitative", "scale": {"domain": [-100, 100], "nice": false}, "axis": null},
            "y2": {"field": "hi"},
            "color": {"field": "f", "type": "nominal", "scale": {"domain": ["1GHz", "2GHz", "4GHz", "9GHz", "17GHz"], "range": ["#ffffff", "#00ffff", "#20ff60", "#bfff00", "#ffb000"]}, "legend": null},
            "stroke": {"field": "f", "type": "nominal", "scale": {"domain": ["1GHz", "2GHz", "4GHz", "9GHz", "17GHz"], "range": ["#ffffff", "#00ffff", "#20ff60", "#bfff00", "#ffb000"]}, "legend": null}
          },
          "layer": [
            {
              "transform": [{"filter": "datum.f == '17GHz'"}],
              "mark": {"type": "area", "strokeWidth": 1},
              "encoding": {
                "x": {"field": "t", "type": "temporal", "axis": {"orient": "bottom", "title": "Start Time (14-Aug-26 20:59:59)", "titlePadding": 1, "labelPadding": 13,
                  "values": [{"year": 1900, "month": 1, "date": 14, "hours": 22, "utc": true}, {"year": 1900, "month": 1, "date": 14, "hours": 23, "utc": true}, {"year": 1900, "month": 1, "date": 15, "hours": 0, "utc": true}, {"year": 1900, "month": 1, "date": 15, "hours": 1, "utc": true}, {"year": 1900, "month": 1, "date": 15, "hours": 2, "utc": true}, {"year": 1900, "month": 1, "date": 15, "hours": 3, "utc": true}, {"year": 1900, "month": 1, "date": 15, "hours": 4, "utc": true}, {"year": 1900, "month": 1, "date": 15, "hours": 5, "utc": true}, {"year": 1900, "month": 1, "date": 15, "hours": 6, "utc": true}, {"year": 1900, "month": 1, "date": 15, "hours": 7, "utc": true}, {"year": 1900, "month": 1, "date": 15, "hours": 8, "utc": true}],
                  "labelExpr": "utchours(datum.value) % 2 == 0 ? utcFormat(datum.value, '%H:%M') : ''",
                  "tickSize": {"condition": {"test": "utchours(datum.value) % 2 == 0", "value": -6}, "value": -3}}},
                "y": {"field": "lo", "type": "quantitative", "axis": {"orient": "left", "title": null, "labelPadding": 15,
                  "values": [-100, -90, -80, -70, -60, -50, -40, -30, -20, -10, 0, 10, 20, 30, 40, 50, 60, 70, 80, 90, 100],
                  "labelExpr": "datum.value % 50 == 0 ? datum.label : ''",
                  "tickSize": {"condition": {"test": "datum.value % 50 == 0", "value": -10}, "value": -5}}}
              }
            },
            {"transform": [{"filter": "datum.f == '9GHz'"}], "mark": {"type": "area", "strokeWidth": 1}},
            {"transform": [{"filter": "datum.f == '4GHz'"}], "mark": {"type": "area", "strokeWidth": 1}},
            {"transform": [{"filter": "datum.f == '2GHz'"}], "mark": {"type": "area", "strokeWidth": 1}},
            {
              "transform": [{"filter": "datum.f == '1GHz'"}],
              "mark": {"type": "area", "strokeWidth": 1},
              "encoding": {
                "x": {"field": "t", "type": "temporal", "axis": {"orient": "top", "title": null, "labels": false,
                  "values": [{"year": 1900, "month": 1, "date": 14, "hours": 22, "utc": true}, {"year": 1900, "month": 1, "date": 14, "hours": 23, "utc": true}, {"year": 1900, "month": 1, "date": 15, "hours": 0, "utc": true}, {"year": 1900, "month": 1, "date": 15, "hours": 1, "utc": true}, {"year": 1900, "month": 1, "date": 15, "hours": 2, "utc": true}, {"year": 1900, "month": 1, "date": 15, "hours": 3, "utc": true}, {"year": 1900, "month": 1, "date": 15, "hours": 4, "utc": true}, {"year": 1900, "month": 1, "date": 15, "hours": 5, "utc": true}, {"year": 1900, "month": 1, "date": 15, "hours": 6, "utc": true}, {"year": 1900, "month": 1, "date": 15, "hours": 7, "utc": true}, {"year": 1900, "month": 1, "date": 15, "hours": 8, "utc": true}],
                  "tickSize": {"condition": {"test": "utchours(datum.value) % 2 == 0", "value": -6}, "value": -3}}},
                "y": {"field": "lo", "type": "quantitative", "axis": {"orient": "right", "title": null, "labels": false,
                  "values": [-100, -90, -80, -70, -60, -50, -40, -30, -20, -10, 0, 10, 20, 30, 40, 50, 60, 70, 80, 90, 100],
                  "tickSize": {"condition": {"test": "datum.value % 50 == 0", "value": -10}, "value": -5}}}
              }
            }
          ],
          "resolve": {"axis": {"x": "independent", "y": "independent"}}
        },
        {
          "data": {
            "values": [
              {"f": "1GHz", "g": "L", "row": 1, "a": "0+", "b": "0/", "c": "0"},
              {"f": "2GHz", "g": "L", "row": 2, "a": "−1+", "b": "−9/", "c": "18"},
              {"f": "4GHz", "g": "L", "row": 3, "a": "2+", "b": "0/", "c": "4"},
              {"f": "9GHz", "g": "R", "row": 1, "a": "4+", "b": "−27/", "c": "30"},
              {"f": "17GHz", "g": "R", "row": 2, "a": "13+", "b": "−11/", "c": "11"}
            ]
          },
          "encoding": {
            "y": {"field": "row", "type": "quantitative", "scale": {"domain": [-15.66, 4.92], "reverse": true, "nice": false, "zero": false}, "axis": null},
            "color": {"field": "f", "type": "nominal", "scale": {"domain": ["1GHz", "2GHz", "4GHz", "9GHz", "17GHz"], "range": ["#ffffff", "#00ffff", "#20ff60", "#bfff00", "#ffb000"]}, "legend": null}
          },
          "layer": [
            {"transform": [{"filter": "datum.g == 'L'"}], "mark": {"type": "text", "align": "left", "baseline": "middle"},
             "encoding": {"x": {"datum": {"year": 1900, "month": 1, "date": 14, "hours": 21, "minutes": 24, "seconds": 26, "utc": true}, "type": "temporal", "axis": null}, "text": {"field": "f"}}},
            {"transform": [{"filter": "datum.g == 'L'"}], "mark": {"type": "text", "align": "center", "baseline": "middle"},
             "encoding": {"x": {"datum": {"year": 1900, "month": 1, "date": 14, "hours": 23, "minutes": 16, "seconds": 16, "utc": true}, "type": "temporal", "axis": null}, "text": {"field": "a"}}},
            {"transform": [{"filter": "datum.g == 'L'"}], "mark": {"type": "text", "align": "left", "baseline": "middle"},
             "encoding": {"x": {"datum": {"year": 1900, "month": 1, "date": 15, "hours": 0, "minutes": 30, "seconds": 36, "utc": true}, "type": "temporal", "axis": null}, "text": {"field": "b"}}},
            {"transform": [{"filter": "datum.g == 'L'"}], "mark": {"type": "text", "align": "center", "baseline": "middle"},
             "encoding": {"x": {"datum": {"year": 1900, "month": 1, "date": 15, "hours": 2, "minutes": 4, "seconds": 23, "utc": true}, "type": "temporal", "axis": null}, "text": {"field": "c"}}},
            {"transform": [{"filter": "datum.g == 'R'"}], "mark": {"type": "text", "align": "right", "baseline": "middle"},
             "encoding": {"x": {"datum": {"year": 1900, "month": 1, "date": 15, "hours": 3, "minutes": 43, "seconds": 23, "utc": true}, "type": "temporal", "axis": null}, "text": {"field": "f"}}},
            {"transform": [{"filter": "datum.g == 'R'"}], "mark": {"type": "text", "align": "center", "baseline": "middle"},
             "encoding": {"x": {"datum": {"year": 1900, "month": 1, "date": 15, "hours": 4, "minutes": 46, "seconds": 23, "utc": true}, "type": "temporal", "axis": null}, "text": {"field": "a"}}},
            {"transform": [{"filter": "datum.g == 'R'"}], "mark": {"type": "text", "align": "center", "baseline": "middle"},
             "encoding": {"x": {"datum": {"year": 1900, "month": 1, "date": 15, "hours": 6, "minutes": 12, "seconds": 11, "utc": true}, "type": "temporal", "axis": null}, "text": {"field": "b"}}},
            {"transform": [{"filter": "datum.g == 'R'"}], "mark": {"type": "text", "align": "right", "baseline": "middle"},
             "encoding": {"x": {"datum": {"year": 1900, "month": 1, "date": 15, "hours": 7, "minutes": 52, "seconds": 16, "utc": true}, "type": "temporal", "axis": null}, "text": {"field": "c"}}}
          ]
        }
      ],
      "resolve": {"scale": {"y": "independent"}}
    }
  ]
}
